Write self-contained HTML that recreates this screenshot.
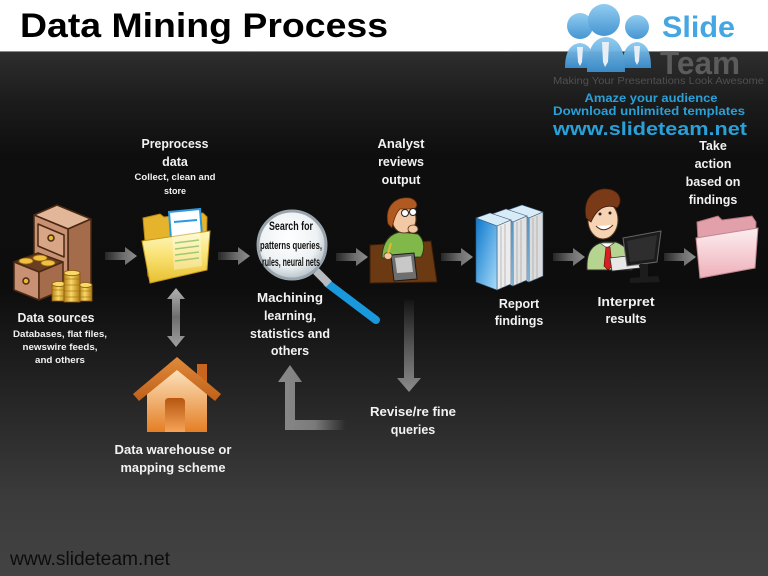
<!DOCTYPE html>
<html><head><meta charset="utf-8"><style>
html,body{margin:0;padding:0;background:#fff;}
svg{display:block;}
text{font-family:"Liberation Sans",Arial,sans-serif;}
</style></head><body>
<svg width="768" height="576" viewBox="0 0 768 576" xmlns="http://www.w3.org/2000/svg">
<defs>
<linearGradient id="bg" x1="0" y1="0" x2="0" y2="1">
<stop offset="0" stop-color="#2e2e2e"/><stop offset="0.1" stop-color="#1b1b1b"/><stop offset="0.2" stop-color="#0e0e0e"/><stop offset="0.45" stop-color="#0d0d0d"/><stop offset="0.65" stop-color="#242424"/><stop offset="0.85" stop-color="#3b3b3b"/><stop offset="1" stop-color="#434343"/>
</linearGradient>
<linearGradient id="ha" x1="0" y1="0" x2="1" y2="0"><stop offset="0" stop-color="#262626"/><stop offset="0.6" stop-color="#707070"/><stop offset="1" stop-color="#8e8e8e"/></linearGradient>
<linearGradient id="va" x1="0" y1="0" x2="0" y2="1"><stop offset="0" stop-color="#b0b0b0"/><stop offset="0.5" stop-color="#6e6e6e"/><stop offset="1" stop-color="#a0a0a0"/></linearGradient>
<linearGradient id="da" x1="0" y1="0" x2="0" y2="1"><stop offset="0" stop-color="#151515"/><stop offset="0.5" stop-color="#555"/><stop offset="1" stop-color="#8c8c8c"/></linearGradient>
<linearGradient id="la" x1="0" y1="0" x2="1" y2="0"><stop offset="0" stop-color="#8a8a8a"/><stop offset="0.55" stop-color="#7a7a7a"/><stop offset="1" stop-color="#2c2c2c"/></linearGradient>
<linearGradient id="gold" x1="0" y1="0" x2="1" y2="0"><stop offset="0" stop-color="#b88218"/><stop offset="0.45" stop-color="#f8d868"/><stop offset="1" stop-color="#b07a10"/></linearGradient>
<linearGradient id="yf" x1="0" y1="0" x2="0" y2="1"><stop offset="0" stop-color="#fff8c0"/><stop offset="0.5" stop-color="#f8e070"/><stop offset="1" stop-color="#e8c030"/></linearGradient>
<linearGradient id="pf" x1="0" y1="0" x2="0" y2="1"><stop offset="0" stop-color="#fdeef0"/><stop offset="1" stop-color="#eeb0ba"/></linearGradient>
<linearGradient id="bk" x1="0" y1="0" x2="1" y2="1"><stop offset="0" stop-color="#0c78cc"/><stop offset="1" stop-color="#a8dcfa"/></linearGradient>
<linearGradient id="wall" x1="0" y1="0" x2="0" y2="1"><stop offset="0" stop-color="#fde4c0"/><stop offset="1" stop-color="#e47f24"/></linearGradient>
<linearGradient id="door" x1="0" y1="0" x2="0" y2="1"><stop offset="0" stop-color="#b8560f"/><stop offset="1" stop-color="#f6a458"/></linearGradient>
<linearGradient id="roof" x1="0" y1="0" x2="0" y2="1"><stop offset="0" stop-color="#e08a3a"/><stop offset="1" stop-color="#c0601a"/></linearGradient>
<radialGradient id="lens" cx="0.45" cy="0.4" r="0.6"><stop offset="0" stop-color="#ffffff"/><stop offset="0.7" stop-color="#eef2f4"/><stop offset="1" stop-color="#b8c4cc"/></radialGradient>
<linearGradient id="ppl" x1="0" y1="0" x2="0" y2="1"><stop offset="0" stop-color="#8ccaf0"/><stop offset="1" stop-color="#3c90d0"/></linearGradient>
</defs>

<rect x="0" y="0" width="768" height="52" fill="#ffffff"/>
<rect x="0" y="51" width="768" height="525" fill="url(#bg)"/>
<line x1="0" y1="51.5" x2="768" y2="51.5" stroke="#8a8a8a" stroke-width="1"/>

<text x="20" y="37" font-size="34" font-weight="bold" fill="#000" textLength="368" lengthAdjust="spacingAndGlyphs">Data Mining Process</text>

<g fill="url(#ppl)" opacity="0.95">
<path d="M565,68 C565,52 570,44 580,43 C590,44 594,52 594,68 Z"/>
<circle cx="580" cy="26" r="13"/>
<path d="M622,68 C622,52 627,43 637,42 C647,43 651,52 651,68 Z"/>
<circle cx="637" cy="27" r="12"/>
<path d="M587,72 C587,48 594,38 606,37 C618,38 625,48 625,72 Z"/>
<circle cx="604" cy="20" r="16"/>
</g>
<g fill="#e8eef4">
<polygon points="577,47 583,47 582,62 580,66 578,62"/>
<polygon points="602,42 609,42 608,62 605,67 603,62"/>
<polygon points="634,46 640,46 639,61 637,65 635,61"/>
</g>
<text x="662" y="37" font-size="30" font-weight="bold" fill="#44a6e2" textLength="73" lengthAdjust="spacingAndGlyphs">Slide</text>
<text x="660" y="74" font-size="32" font-weight="bold" fill="#5c5c5c" textLength="80" lengthAdjust="spacingAndGlyphs">Team</text>
<text x="553" y="84" font-size="10" fill="#505050" textLength="211" lengthAdjust="spacingAndGlyphs">Making Your Presentations Look Awesome</text>
<text x="651" y="102" font-size="11.5" font-weight="bold" fill="#2aa0d8" text-anchor="middle" textLength="133" lengthAdjust="spacingAndGlyphs">Amaze your audience</text>
<text x="553" y="115" font-size="11.5" font-weight="bold" fill="#2aa0d8" textLength="192" lengthAdjust="spacingAndGlyphs">Download unlimited templates</text>
<text x="553" y="135" font-size="18" font-weight="bold" fill="#2aa0d8" textLength="194" lengthAdjust="spacingAndGlyphs">www.slideteam.net</text>

<g fill="url(#ha)">
<path transform="translate(105,256)" d="M0,-4 H20 V-9 L32,0 L20,9 V4 H0 Z"/>
<path transform="translate(218,256)" d="M0,-4 H20 V-9 L32,0 L20,9 V4 H0 Z"/>
<path transform="translate(336,257)" d="M0,-4 H20 V-9 L32,0 L20,9 V4 H0 Z"/>
<path transform="translate(441,257)" d="M0,-4 H20 V-9 L32,0 L20,9 V4 H0 Z"/>
<path transform="translate(553,257)" d="M0,-4 H20 V-9 L32,0 L20,9 V4 H0 Z"/>
<path transform="translate(664,257)" d="M0,-4 H20 V-9 L32,0 L20,9 V4 H0 Z"/>
</g>
<path d="M176,288 L185,299 L180,299 L180,336 L185,336 L176,347 L167,336 L172,336 L172,299 L167,299 Z" fill="url(#va)"/>
<path d="M404,300 H414 V378 H421 L409,392 L397,378 H404 Z" fill="url(#da)"/>
<path d="M290,365 L302,382 L295,382 L295,420 L345,420 L345,430 L285,430 L285,382 L278,382 Z" fill="url(#la)"/>

<g stroke="#4a2812" stroke-width="1.5" stroke-linejoin="round">
<polygon points="34,215 57,205 91,219 68,229" fill="#e2b698"/>
<polygon points="68,229 91,219 91,290 68,300" fill="#a46c4a"/>
<polygon points="34,215 68,229 68,300 34,286" fill="#c99173"/>
<polygon points="38,224 64,235 64,257 38,246" fill="#d8a686"/>
<circle cx="51" cy="238" r="3" fill="#e8b830"/>
<polygon points="14,262 38,253 63,262 39,272" fill="#6a3e20"/>
</g>
<g fill="#f0c040" stroke="#9a6a10" stroke-width="0.8">
<ellipse cx="26" cy="261" rx="7" ry="3"/><ellipse cx="40" cy="258" rx="7" ry="3"/><ellipse cx="48" cy="263" rx="7" ry="3"/>
</g>
<g stroke="#4a2812" stroke-width="1.5" stroke-linejoin="round">
<polygon points="14,262 39,272 39,300 14,290" fill="#c99173"/>
<polygon points="39,272 63,262 63,290 39,300" fill="#a46c4a"/>
<circle cx="26" cy="281" r="3" fill="#e8b830"/>
</g>
<g stroke="#8a5a08" stroke-width="0.8">
<rect x="52" y="284" width="14" height="17" fill="url(#gold)"/><ellipse cx="59" cy="284" rx="7" ry="2.5" fill="#f8d868"/>
<rect x="79" y="285" width="13" height="16" fill="url(#gold)"/><ellipse cx="85.5" cy="285" rx="6.5" ry="2.5" fill="#f8d868"/>
<rect x="64" y="273" width="16" height="29" fill="url(#gold)"/><ellipse cx="72" cy="273" rx="8" ry="2.7" fill="#f8d868"/>
</g>
<g stroke="#a07010" stroke-width="0.6">
<line x1="64" y1="279" x2="80" y2="279"/><line x1="64" y1="285" x2="80" y2="285"/><line x1="64" y1="291" x2="80" y2="291"/><line x1="64" y1="297" x2="80" y2="297"/>
<line x1="52" y1="290" x2="64" y2="290"/><line x1="52" y1="296" x2="64" y2="296"/>
<line x1="80" y1="291" x2="92" y2="291"/><line x1="80" y1="297" x2="92" y2="297"/>
</g>

<polygon points="143,218 160,214 164,217 203,213 207,217 206,266 148,276" fill="#e6b42c" stroke="#b88a10" stroke-width="1"/>
<polygon points="169,212 200,209 202,236 171,239" fill="#fff" stroke="#2a9ae0" stroke-width="2"/>
<line x1="174" y1="222" x2="197" y2="220" stroke="#2a9ae0" stroke-width="2"/>
<polygon points="142,241 210,231 207,270 150,283" fill="url(#yf)" stroke="#c89818" stroke-width="1"/>
<polygon points="172,234 200,231 202,266 174,270" fill="#ffffff" opacity="0.35"/>
<g stroke="#8cc060" stroke-width="1.5" opacity="0.8">
<line x1="175" y1="243" x2="199" y2="240"/><line x1="175" y1="249" x2="199" y2="246"/><line x1="175" y1="255" x2="199" y2="252"/><line x1="175" y1="261" x2="199" y2="258"/>
</g>

<line x1="327" y1="283" x2="376" y2="320" stroke="#1a98dc" stroke-width="8" stroke-linecap="round"/>
<line x1="316" y1="271" x2="329" y2="284" stroke="#b8bcc0" stroke-width="8"/>
<circle cx="292" cy="245" r="34" fill="url(#lens)" stroke="#9aa4ac" stroke-width="3"/>
<text x="291" y="230" font-size="12" font-weight="bold" fill="#111" text-anchor="middle" textLength="44" lengthAdjust="spacingAndGlyphs">Search for</text>
<text x="291" y="249" font-size="11" font-weight="bold" fill="#111" text-anchor="middle" textLength="62" lengthAdjust="spacingAndGlyphs">patterns queries,</text>
<text x="291" y="266" font-size="11.5" font-weight="bold" fill="#111" text-anchor="middle" textLength="58" lengthAdjust="spacingAndGlyphs">rules, neural nets</text>

<polygon points="370,245 431,241 437,282 370,283" fill="#6b3a12" stroke="#3a1e08" stroke-width="1"/>
<path d="M382,258 C382,241 391,233 401,232 L418,234 C425,240 425,250 421,257 Z" fill="#80b84a" stroke="#2a3a1a" stroke-width="1"/>
<ellipse cx="404" cy="219" rx="12" ry="14" fill="#f3c9a5" stroke="#5a3a20" stroke-width="1"/>
<path d="M388,224 C384,205 397,196 410,198 C417,200 419,206 414,209 L400,209 C396,213 394,219 392,228 Z" fill="#b05a22" stroke="#5a2a0a" stroke-width="0.8"/>
<circle cx="405" cy="213" r="3.5" fill="#fff" stroke="#222" stroke-width="1"/>
<circle cx="413" cy="212" r="3.5" fill="#fff" stroke="#222" stroke-width="1"/>
<ellipse cx="413" cy="229" rx="5" ry="4" fill="#f3c9a5" stroke="#5a3a20" stroke-width="0.8"/>
<polygon points="391,255 414,253 417,279 394,281" fill="#6e6e6e" stroke="#1a1a1a" stroke-width="1"/>
<polygon points="395,258 411,256 413,272 397,273" fill="#c8c8c8"/>
<ellipse cx="388" cy="256" rx="4" ry="3.5" fill="#f3c9a5" stroke="#5a3a20" stroke-width="0.8"/>
<line x1="388" y1="254" x2="391" y2="243" stroke="#e8b830" stroke-width="2"/>

<g stroke="#3a5a7a" stroke-width="0.6">
<polygon points="508,210 522,205 543,212 529,218" fill="#d8ecf8"/>
<polygon points="529,218 543,212 543,276 529,282" fill="#dcdcdc"/>
<polygon points="508,210 529,218 529,282 508,274" fill="url(#bk)"/>
<polygon points="492,214 506,209 527,216 513,222" fill="#d8ecf8"/>
<polygon points="513,222 527,216 527,280 513,286" fill="#e2e2e2"/>
<polygon points="492,214 513,222 513,286 492,278" fill="url(#bk)"/>
<polygon points="476,218 490,213 511,220 497,226" fill="#d8ecf8"/>
<polygon points="497,226 511,220 511,284 497,290" fill="#ececec"/>
<polygon points="476,218 497,226 497,290 476,282" fill="url(#bk)"/>
</g>
<g stroke="#9a9a9a" stroke-width="0.6">
<line x1="501" y1="226" x2="501" y2="288"/><line x1="505" y1="224" x2="505" y2="287"/>
<line x1="517" y1="222" x2="517" y2="284"/><line x1="521" y1="220" x2="521" y2="283"/>
<line x1="533" y1="218" x2="533" y2="280"/><line x1="537" y1="216" x2="537" y2="279"/>
</g>

<path d="M587,270 C586,252 592,244 604,242 L616,242 C628,246 632,256 632,270 Z" fill="#b5d48f" stroke="#2a2a2a" stroke-width="1"/>
<polygon points="600,243 607,248 614,243" fill="#fff" stroke="#333" stroke-width="0.6"/>
<polygon points="606,247 610,247 612,266 608,270 604,266" fill="#d42020" stroke="#600" stroke-width="0.6"/>
<ellipse cx="603" cy="220" rx="15" ry="19" fill="#f6d3b3" stroke="#5a3a20" stroke-width="1"/>
<path d="M586,218 C582,197 596,187 608,189 C621,191 623,202 617,208 C608,204 598,206 591,222 Z" fill="#7a3a18" stroke="#3a1a08" stroke-width="0.8"/>
<path d="M596,226 Q604,234 613,225" fill="#fff" stroke="#5a2a10" stroke-width="1"/>
<circle cx="600" cy="214" r="1.5" fill="#222"/><circle cx="610" cy="213" r="1.5" fill="#222"/>
<polygon points="610,258 636,255 640,268 612,271" fill="#e8e8e8" stroke="#333" stroke-width="0.8"/>
<polygon points="623,238 661,231 657,262 627,266" fill="#1c1c1c" stroke="#666" stroke-width="1"/>
<polygon points="627,241 657,235 654,259 630,262" fill="#2e2e2e"/>
<rect x="640" y="264" width="8" height="14" fill="#1c1c1c"/>
<polygon points="630,278 658,276 660,282 630,283" fill="#1c1c1c"/>

<polygon points="697,222 718,216 722,220 752,216 756,222 755,268 700,278" fill="#e2a0aa" stroke="#b07078" stroke-width="1"/>
<polygon points="696,238 758,228 755,268 700,278" fill="url(#pf)" stroke="#c08890" stroke-width="1"/>

<rect x="197" y="364" width="10" height="20" fill="#c8661e"/>
<polygon points="147,392 177,368 207,392 207,432 147,432" fill="url(#wall)"/>
<polygon points="177,357 221,394 215,401 177,370 139,401 133,394" fill="url(#roof)"/>
<path d="M165,432 V402 Q165,398 169,398 H181 Q185,398 185,402 V432 Z" fill="url(#door)"/>

<g fill="#f2f2f2" font-weight="bold" text-anchor="middle">
<text x="175" y="148" font-size="12.5" textLength="67" lengthAdjust="spacingAndGlyphs">Preprocess</text>
<text x="175" y="166" font-size="12.5">data</text>
<text x="175" y="180" font-size="9" textLength="81" lengthAdjust="spacingAndGlyphs">Collect, clean and</text>
<text x="175" y="194" font-size="9">store</text>

<text x="401" y="148" font-size="12.5" textLength="47" lengthAdjust="spacingAndGlyphs">Analyst</text>
<text x="401" y="166" font-size="12.5">reviews</text>
<text x="401" y="184" font-size="12.5">output</text>

<text x="713" y="150" font-size="12.5">Take</text>
<text x="713" y="168" font-size="12.5">action</text>
<text x="713" y="186" font-size="12.5">based on</text>
<text x="713" y="204" font-size="12.5">findings</text>

<text x="56" y="322" font-size="12.5" textLength="77" lengthAdjust="spacingAndGlyphs">Data sources</text>
<text x="60" y="337" font-size="9" textLength="94" lengthAdjust="spacingAndGlyphs">Databases, flat files,</text>
<text x="60" y="350" font-size="9" textLength="75" lengthAdjust="spacingAndGlyphs">newswire feeds,</text>
<text x="60" y="363" font-size="9" textLength="50" lengthAdjust="spacingAndGlyphs">and others</text>

<text x="290" y="302" font-size="12.5" textLength="66" lengthAdjust="spacingAndGlyphs">Machining</text>
<text x="290" y="320" font-size="12.5">learning,</text>
<text x="290" y="338" font-size="12.5" textLength="80" lengthAdjust="spacingAndGlyphs">statistics and</text>
<text x="290" y="355" font-size="12.5">others</text>

<text x="519" y="308" font-size="12.5">Report</text>
<text x="519" y="325" font-size="12.5">findings</text>

<text x="626" y="306" font-size="12.5" textLength="57" lengthAdjust="spacingAndGlyphs">Interpret</text>
<text x="626" y="323" font-size="12.5">results</text>

<text x="413" y="416" font-size="12.5" textLength="86" lengthAdjust="spacingAndGlyphs">Revise/re fine</text>
<text x="413" y="434" font-size="12.5">queries</text>

<text x="173" y="454" font-size="12.5" textLength="117" lengthAdjust="spacingAndGlyphs">Data warehouse or</text>
<text x="173" y="472" font-size="12.5" textLength="105" lengthAdjust="spacingAndGlyphs">mapping scheme</text>
</g>

<text x="10" y="565" font-size="19" fill="#0d0d0d" textLength="160" lengthAdjust="spacingAndGlyphs">www.slideteam.net</text>
</svg>
</body></html>
